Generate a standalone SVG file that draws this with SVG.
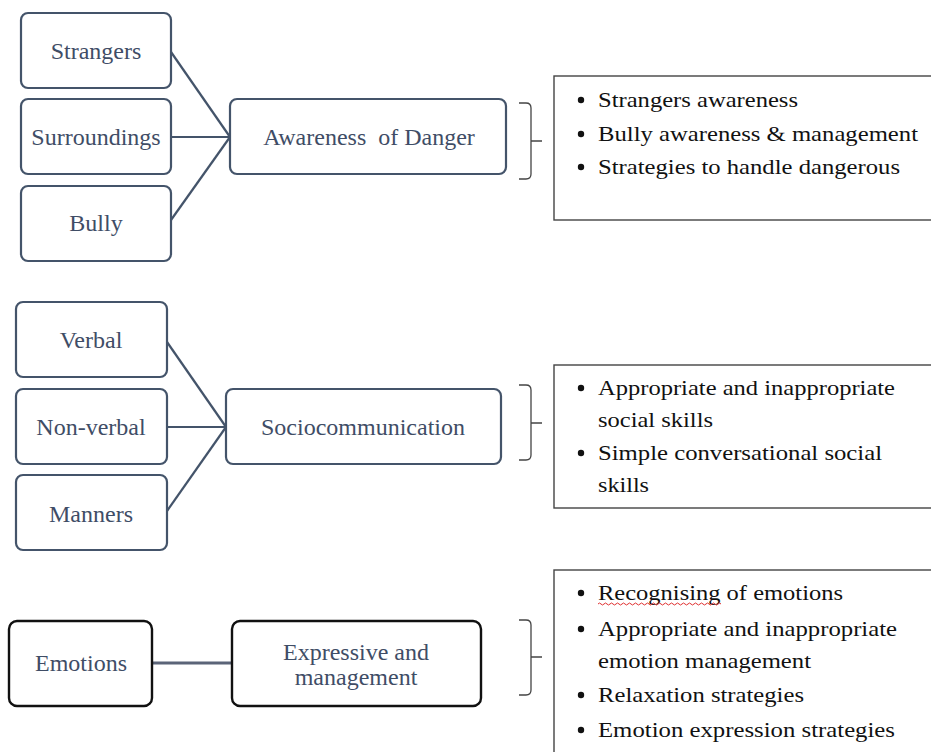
<svg xmlns="http://www.w3.org/2000/svg" width="931" height="752" viewBox="0 0 931 752">
<style>
.n{fill:#ffffff;stroke:#44546a;stroke-width:2.2}
.nb{fill:#ffffff;stroke:#111111;stroke-width:2.4}
.t{font-family:"Liberation Serif","Times New Roman",serif;font-size:24px;fill:#3f4d66;text-anchor:middle}
.c{stroke:#44546a;stroke-width:2.2;fill:none}
.c3{stroke:#5b6478;stroke-width:3.2;fill:none}
.br{stroke:#444444;stroke-width:1.3;fill:none}
.box{fill:#ffffff;stroke:#444444;stroke-width:1.4}
.li{font-family:"Liberation Serif","Times New Roman",serif;font-size:22px;fill:#111111}
.bu{fill:#111111}
</style>
<rect width="931" height="752" fill="#ffffff"/>

<g id="connectors">
  <path class="c" d="M171,52 L230,137"/>
  <path class="c" d="M171,137 L230,137"/>
  <path class="c" d="M171,220 L230,137"/>
  <path class="c" d="M167,342 L226,427"/>
  <path class="c" d="M167,427 L226,427"/>
  <path class="c" d="M167,511 L226,427"/>
  <path class="c3" d="M152,663 L232,663"/>
</g>

<g id="strangers"><rect class="n" x="21" y="13" width="150" height="75" rx="7"/><text class="t" x="96" y="59">Strangers</text></g>
<g id="surroundings"><rect class="n" x="21" y="99" width="150" height="75" rx="7"/><text class="t" x="96" y="145">Surroundings</text></g>
<g id="bully"><rect class="n" x="21" y="186" width="150" height="75" rx="7"/><text class="t" x="96" y="231">Bully</text></g>
<g id="awareness"><rect class="n" x="230" y="99" width="276" height="75" rx="7"/><text class="t" x="369" y="145" xml:space="preserve">Awareness  of Danger</text></g>

<g id="verbal"><rect class="n" x="16" y="302" width="151" height="75" rx="7"/><text class="t" x="91" y="348">Verbal</text></g>
<g id="nonverbal"><rect class="n" x="16" y="389" width="151" height="75" rx="7"/><text class="t" x="91" y="435">Non-verbal</text></g>
<g id="manners"><rect class="n" x="16" y="475" width="151" height="75" rx="7"/><text class="t" x="91" y="522">Manners</text></g>
<g id="socio"><rect class="n" x="226" y="389" width="275" height="75" rx="7"/><text class="t" x="363" y="435">Sociocommunication</text></g>

<g id="emotions"><rect class="nb" x="9" y="621" width="143" height="85" rx="8"/><text class="t" x="81" y="671">Emotions</text></g>
<g id="expressive"><rect class="nb" x="232" y="621" width="249" height="85" rx="8"/><text class="t" x="356" y="660">Expressive and</text><text class="t" x="356" y="685">management</text></g>

<g id="bracket1"><path class="br" d="M519,103 H526 Q531,103 531,108 V141 H542 M531,141 V174 Q531,179 526,179 H519"/></g>
<g id="bracket2"><path class="br" d="M519,385 H526 Q531,385 531,390 V423 H542 M531,423 V455 Q531,460 526,460 H519"/></g>
<g id="bracket3"><path class="br" d="M519,620 H526 Q531,620 531,625 V657 H542 M531,657 V690 Q531,695 526,695 H519"/></g>

<g id="list1">
  <rect class="box" x="554" y="76" width="381" height="144"/>
  <circle class="bu" cx="581" cy="100" r="3.2"/><text class="li" x="598" y="107" textLength="200" lengthAdjust="spacingAndGlyphs">Strangers awareness</text>
  <circle class="bu" cx="581" cy="134" r="3.2"/><text class="li" x="598" y="141" textLength="320" lengthAdjust="spacingAndGlyphs">Bully awareness &amp; management</text>
  <circle class="bu" cx="581" cy="167" r="3.2"/><text class="li" x="598" y="174" textLength="302" lengthAdjust="spacingAndGlyphs">Strategies to handle dangerous</text>
</g>

<g id="list2">
  <rect class="box" x="554" y="365" width="381" height="143"/>
  <circle class="bu" cx="581" cy="388" r="3.2"/><text class="li" x="598" y="395" textLength="297" lengthAdjust="spacingAndGlyphs">Appropriate and inappropriate</text>
  <text class="li" x="598" y="427" textLength="115" lengthAdjust="spacingAndGlyphs">social skills</text>
  <circle class="bu" cx="581" cy="453" r="3.2"/><text class="li" x="598" y="460" textLength="284" lengthAdjust="spacingAndGlyphs">Simple conversational social</text>
  <text class="li" x="598" y="492" textLength="51" lengthAdjust="spacingAndGlyphs">skills</text>
</g>

<g id="list3">
  <rect class="box" x="554" y="570" width="381" height="200"/>
  <circle class="bu" cx="581" cy="593" r="3.2"/><text class="li" x="598" y="600" textLength="245" lengthAdjust="spacingAndGlyphs">Recognising of emotions</text>
  <path d="M598,604 q1.5,-2 3,0 t3,0 t3,0 t3,0 t3,0 t3,0 t3,0 t3,0 t3,0 t3,0 t3,0 t3,0 t3,0 t3,0 t3,0 t3,0 t3,0 t3,0 t3,0 t3,0 t3,0 t3,0 t3,0 t3,0 t3,0 t3,0 t3,0 t3,0 t3,0 t3,0 t3,0 t3,0 t3,0 t3,0 t3,0 t3,0 t3,0 t3,0 t3,0 t3,0 t3,0" fill="none" stroke="#e03030" stroke-width="1"/>
  <circle class="bu" cx="581" cy="629" r="3.2"/><text class="li" x="598" y="636" textLength="299" lengthAdjust="spacingAndGlyphs">Appropriate and inappropriate</text>
  <text class="li" x="598" y="668" textLength="213" lengthAdjust="spacingAndGlyphs">emotion management</text>
  <circle class="bu" cx="581" cy="695" r="3.2"/><text class="li" x="598" y="702" textLength="206" lengthAdjust="spacingAndGlyphs">Relaxation strategies</text>
  <circle class="bu" cx="581" cy="730" r="3.2"/><text class="li" x="598" y="737" textLength="297" lengthAdjust="spacingAndGlyphs">Emotion expression strategies</text>
</g>
</svg>
